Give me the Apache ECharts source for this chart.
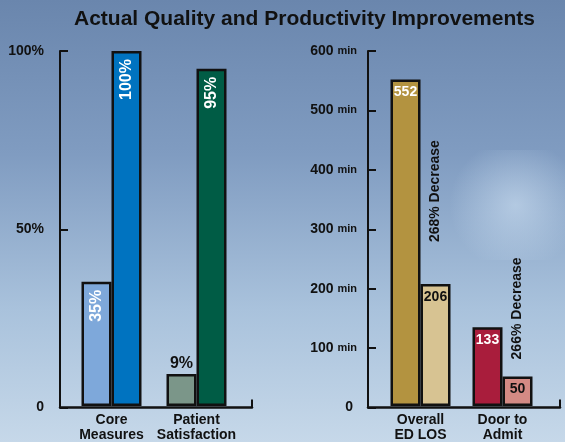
<!DOCTYPE html>
<html>
<head>
<meta charset="utf-8">
<script src="https://cdn.jsdelivr.net/npm/echarts@6/dist/echarts.min.js"></script>
<style>
html,body{margin:0;padding:0;}
#chart{width:565px;height:442px;}
</style>
</head>
<body>
<div id="chart"></div>
<script>
// ---- data ----
var titleText = 'Actual Quality and Productivity Improvements';
var leftCategories = ['Core\nMeasures', 'Patient\nSatisfaction'];
var leftBefore = [35, 9];
var leftAfter = [100, 95];
var leftTicks = [0, 50, 100];
var rightCategories = ['Overall\nED LOS', 'Door to\nAdmit'];
var rightBefore = [552, 133];
var rightAfter = [206, 50];
var rightNotes = ['268% Decrease', '266% Decrease'];
var rightTicks = [0, 100, 200, 300, 400, 500, 600];

// ---- styles ----
var FONT = 'Liberation Sans, Arial, sans-serif';
var INK = '#111111';
var leftBeforeColors = ['#7ea8da', '#7b9689'];
var leftAfterColors = ['#0073c0', '#005c45'];
var rightBeforeColors = ['#b39340', '#a91d3c'];
var rightAfterColors = ['#d7c392', '#d48a84'];

var chart = echarts.init(document.getElementById('chart'), null, {renderer: 'canvas'});

var TOP = 51, BOTTOM = 34.5;

function frameX(gridIndex) {
  return {
    type: 'value', gridIndex: gridIndex, min: 0, max: 1, interval: 1,
    axisLine: {show: true, onZero: false, lineStyle: {color: INK, width: 2.5}},
    axisTick: {show: true, inside: true, length: 8, lineStyle: {color: INK, width: 2}},
    axisLabel: {show: false}, splitLine: {show: false}
  };
}
function catX(gridIndex, cats) {
  return {
    type: 'category', gridIndex: gridIndex, data: cats,
    axisLine: {show: false}, axisTick: {show: false},
    axisLabel: {color: INK, fontFamily: FONT, fontWeight: 'bold', fontSize: 14, lineHeight: 14.5, margin: 7, interval: 0}
  };
}
function hiddenY(gridIndex, ticks) {
  return {type: 'value', gridIndex: gridIndex, min: ticks[0], max: ticks[ticks.length - 1], show: false};
}

var leftY = {
  type: 'value', gridIndex: 0,
  min: leftTicks[0], max: leftTicks[leftTicks.length - 1], interval: leftTicks[1] - leftTicks[0],
  axisLine: {show: true, lineStyle: {color: INK, width: 2}},
  axisTick: {show: true, inside: true, length: 8, lineStyle: {color: INK, width: 2}},
  splitLine: {show: false},
  axisLabel: {
    margin: 16, color: INK, fontFamily: FONT, fontWeight: 'bold', fontSize: 14,
    formatter: function (v) { return v === 0 ? '0' : v + '%'; }
  }
};
var rightY = {
  type: 'value', gridIndex: 2,
  min: rightTicks[0], max: rightTicks[rightTicks.length - 1], interval: rightTicks[1] - rightTicks[0],
  axisLine: {show: true, lineStyle: {color: INK, width: 2}},
  axisTick: {show: true, inside: true, length: 8, lineStyle: {color: INK, width: 2}},
  splitLine: {show: false},
  axisLabel: {
    margin: 11, color: INK, fontFamily: FONT, fontWeight: 'bold', fontSize: 14,
    formatter: function (v) { return v === 0 ? '{z|0}' : '{n|' + v + '} {u|min}'; },
    rich: {
      n: {fontFamily: FONT, fontWeight: 'bold', fontSize: 14, color: INK},
      u: {fontFamily: FONT, fontWeight: 'bold', fontSize: 11, color: INK},
      z: {fontFamily: FONT, fontWeight: 'bold', fontSize: 14, color: INK, padding: [0, 4, 0, 0]}
    }
  }
};

var barBase = {type: 'bar', barWidth: 30, barGap: '0%'};
function border() { return {borderColor: INK, borderWidth: 2.5}; }

var rotatedInside = {
  show: true, position: 'insideTop', rotate: 90, align: 'right', verticalAlign: 'middle',
  distance: 8, color: '#ffffff', fontFamily: FONT, fontWeight: 'bold', fontSize: 16,
  formatter: '{c}%'
};

var leftBeforeData = leftBefore.map(function (v, i) {
  var item = {value: v, itemStyle: Object.assign({color: leftBeforeColors[i]}, border())};
  if (i === 1) {
    item.label = {show: true, position: 'top', rotate: 0, align: 'center', verticalAlign: 'bottom',
      distance: 2, color: INK, fontFamily: FONT, fontWeight: 'bold', fontSize: 16, formatter: '{c}%'};
  }
  return item;
});
var leftAfterData = leftAfter.map(function (v, i) {
  return {value: v, itemStyle: Object.assign({color: leftAfterColors[i]}, border())};
});
var rightBeforeData = rightBefore.map(function (v, i) {
  return {value: v, itemStyle: Object.assign({color: rightBeforeColors[i]}, border())};
});
var rightAfterData = rightAfter.map(function (v, i) {
  return {value: v, itemStyle: Object.assign({color: rightAfterColors[i]}, border())};
});
var noteDistances = [42, 17];
var noteData = rightNotes.map(function (t, i) {
  return {
    value: 0, name: t,
    itemStyle: {color: 'rgba(0,0,0,0)', borderWidth: 0},
    label: {distance: noteDistances[i]}
  };
});

var option = {
  backgroundColor: {
    type: 'linear', x: 0, y: 0, x2: 0, y2: 1,
    colorStops: [
      {offset: 0, color: '#6a86ad'},
      {offset: 0.35, color: '#809cc1'},
      {offset: 0.7, color: '#a9c2dc'},
      {offset: 1, color: '#c6d8e9'}
    ]
  },
  animation: false,
  graphic: [{
    type: 'rect', silent: true, z: -10,
    shape: {x: 400, y: 150, width: 165, height: 110},
    style: {
      fill: {
        type: 'radial', x: 0.7, y: 0.5, r: 0.6,
        colorStops: [
          {offset: 0, color: 'rgba(210,228,245,0.55)'},
          {offset: 1, color: 'rgba(210,228,245,0)'}
        ]
      }
    }
  }],
  title: {
    text: titleText, left: 74, top: 9, padding: 0,
    textStyle: {fontFamily: FONT, fontWeight: 'bold', fontSize: 21, color: INK}
  },
  grid: [
    {left: 60, right: 313, top: TOP, bottom: BOTTOM},
    {left: 69, right: 326, top: TOP, bottom: BOTTOM},
    {left: 368, right: 5, top: TOP, bottom: BOTTOM},
    {left: 379.5, right: 21.5, top: TOP, bottom: BOTTOM}
  ],
  xAxis: [frameX(0), catX(1, leftCategories), frameX(2), catX(3, rightCategories)],
  yAxis: [leftY, hiddenY(1, leftTicks), rightY, hiddenY(3, rightTicks)],
  series: [
    Object.assign({}, barBase, {
      name: 'Before', xAxisIndex: 1, yAxisIndex: 1, data: leftBeforeData,
      label: rotatedInside
    }),
    Object.assign({}, barBase, {
      name: 'After', xAxisIndex: 1, yAxisIndex: 1, data: leftAfterData,
      label: rotatedInside
    }),
    Object.assign({}, barBase, {
      name: 'Before', xAxisIndex: 3, yAxisIndex: 3, data: rightBeforeData,
      label: {show: true, position: 'insideTop', distance: 6, color: '#ffffff',
        fontFamily: FONT, fontWeight: 'bold', fontSize: 14}
    }),
    Object.assign({}, barBase, {
      name: 'After', xAxisIndex: 3, yAxisIndex: 3, stack: 'after', data: rightAfterData,
      label: {show: true, position: 'insideTop', distance: 6, color: INK,
        fontFamily: FONT, fontWeight: 'bold', fontSize: 14}
    }),
    Object.assign({}, barBase, {
      name: 'Note', xAxisIndex: 3, yAxisIndex: 3, stack: 'after', data: noteData,
      label: {show: true, position: 'top', rotate: 90, align: 'left', verticalAlign: 'middle',
        color: INK, fontFamily: FONT, fontWeight: 'bold', fontSize: 14, formatter: '{b}'}
    })
  ]
};
chart.setOption(option);
</script>
</body>
</html>
